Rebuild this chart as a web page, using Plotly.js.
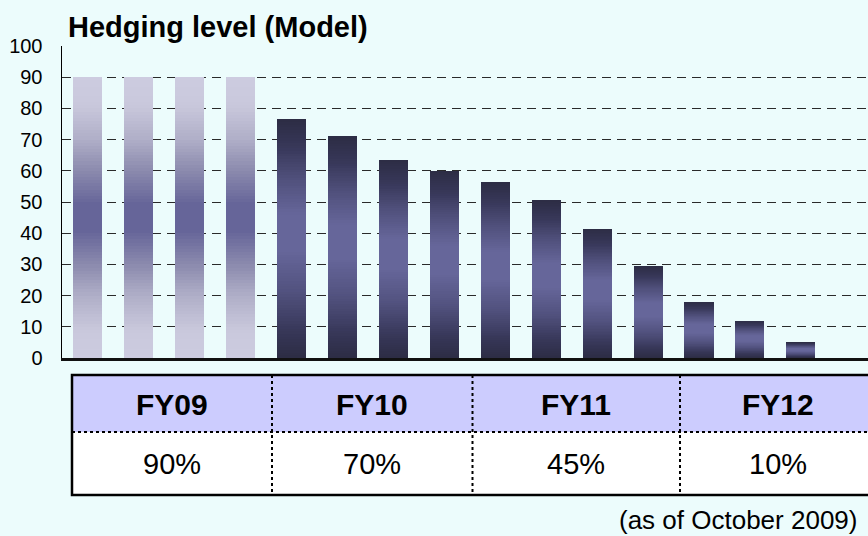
<!DOCTYPE html>
<html>
<head>
<meta charset="utf-8">
<script src="https://cdn.plot.ly/plotly-3.0.1.min.js"></script>
<style>
html,body{margin:0;padding:0;background:#ecfcfc;}
#chart{width:868px;height:536px;}
</style>
</head>
<body>
<div id="chart"></div>
<script>
// ---------------- data ----------------
const barIndex = [0,1,2,3,4,5,6,7,8,9,10,11,12,13,14];
const hedgeLevels = [90,90,90,90,76.5,71,63.5,60,56.5,50.5,41.5,29.5,18,12,5];
const barStyle = ['light','light','light','light','dark','dark','dark','dark','dark','dark','dark','dark','dark','dark','dark'];
const yTickVals = [0,10,20,30,40,50,60,70,80,90,100];
const yTickText = ['0','10','20','30','40','50','60','70','80','90','100'];
const fiscalYears = ['FY09','FY10','FY11','FY12'];
const fyHedgeRatios = ['90%','70%','45%','10%'];
const chartTitle = 'Hedging level (Model)';
const footNote = '(as of October 2009)';

// ---------------- style ----------------
const FONT = '"Liberation Sans", Arial, sans-serif';
const lightStops = [[0,'#cdcce0'],[0.1,'#c9c8dc'],[0.22,'#b0afc8'],[0.33,'#8c8bae'],[0.45,'#666599'],[0.55,'#666599'],[0.67,'#8c8bae'],[0.78,'#b0afc8'],[0.9,'#c9c8dc'],[1,'#cdcce0']];
const darkStops = [[0,'#2c2c44'],[0.12,'#38385a'],[0.28,'#52527f'],[0.45,'#66669a'],[0.6,'#66669a'],[0.75,'#50507c'],[0.88,'#38385a'],[1,'#2c2c44']];

function hexToRgb(h){h=h.replace('#','');return [parseInt(h.substr(0,2),16),parseInt(h.substr(2,2),16),parseInt(h.substr(4,2),16)];}
function colorAt(stops,t){
  for(let i=0;i<stops.length-1;i++){
    const a=stops[i],b=stops[i+1];
    if(t>=a[0]&&t<=b[0]){
      const f=(t-a[0])/(b[0]-a[0]);
      const ca=hexToRgb(a[1]),cb=hexToRgb(b[1]);
      const c=ca.map((v,j)=>Math.round(v+(cb[j]-v)*f));
      return 'rgb('+c.join(',')+')';
    }
  }
  return stops[stops.length-1][1];
}

// gradient rendering: each bar is drawn as a stack of thin bands of its own value
const BANDS = 90;
const traces = [];
for(let k=0;k<BANDS;k++){
  const t=(k+0.5)/BANDS;
  traces.push({
    type:'bar',
    x:barIndex,
    y:hedgeLevels.map(v=>v/BANDS),
    marker:{color:barStyle.map(s=>colorAt(s==='light'?lightStops:darkStops,t)),line:{width:0}},
    hoverinfo:'skip',
    showlegend:false
  });
}

// layout geometry (pixels)
const W=868,H=536,ML=62,MT=46,MB=178;
const PW=W-ML, PH=H-MT-MB;
const px=x=>(x-ML)/PW;
const py=y=>(H-MB-y)/PH;

const tblL=72,tblR=884,tblT=375,tblMid=432,tblB=495;
const colDiv=[272,472.5,680];
const colCenters=[172,372,576,778];

const shapes=[
  {type:'rect',xref:'paper',yref:'paper',x0:px(tblL),x1:px(tblR),y0:py(tblT),y1:py(tblMid),fillcolor:'#ccccfe',line:{width:0},layer:'above'},
  {type:'rect',xref:'paper',yref:'paper',x0:px(tblL),x1:px(tblR),y0:py(tblMid),y1:py(tblB),fillcolor:'#ffffff',line:{width:0},layer:'above'},
  {type:'line',xref:'paper',yref:'paper',x0:px(tblL),x1:px(tblR),y0:py(tblMid),y1:py(tblMid),line:{color:'#000',width:2,dash:'dot'},layer:'above'}
];
colDiv.forEach(x=>shapes.push({type:'line',xref:'paper',yref:'paper',x0:px(x),x1:px(x),y0:py(tblT),y1:py(tblB),line:{color:'#000',width:2,dash:'dot'},layer:'above'}));
shapes.push({type:'rect',xref:'paper',yref:'paper',x0:px(tblL),x1:px(tblR),y0:py(tblT),y1:py(tblB),line:{color:'#000',width:2.5},fillcolor:'rgba(0,0,0,0)',layer:'above'});

const annotations=[];
fiscalYears.forEach((fy,i)=>annotations.push({xref:'paper',yref:'paper',x:px(colCenters[i]),y:py(404),text:'<b>'+fy+'</b>',showarrow:false,xanchor:'center',yanchor:'middle',font:{family:FONT,size:30,color:'#000'}}));
fyHedgeRatios.forEach((v,i)=>annotations.push({xref:'paper',yref:'paper',x:px(colCenters[i]),y:py(464),text:v,showarrow:false,xanchor:'center',yanchor:'middle',font:{family:FONT,size:29,color:'#000'}}));
annotations.push({xref:'paper',yref:'paper',x:px(859),y:py(520),text:footNote,showarrow:false,xanchor:'right',yanchor:'middle',font:{family:FONT,size:26,color:'#000'}});

const slot=50.96;
const layout={
  width:W,height:H,
  margin:{l:ML,r:0,t:MT,b:MB,pad:0},
  paper_bgcolor:'#ecfcfc',
  plot_bgcolor:'#ecfcfc',
  barmode:'stack',
  bargap:0.43,
  title:{text:'<b>'+chartTitle+'</b>',xref:'container',yref:'container',x:68/W,xanchor:'left',y:1-17/H,yanchor:'top',font:{family:FONT,size:29,color:'#000'}},
  xaxis:{range:[-0.5,(W-ML)/slot-0.5],showticklabels:false,ticks:'',showgrid:false,zeroline:false,showline:true,linecolor:'#111',linewidth:2.5,fixedrange:true},
  yaxis:{range:[0,100],tickmode:'array',tickvals:yTickVals,ticktext:yTickText,ticks:'',showline:true,linecolor:'#000',linewidth:1.5,
         showgrid:true,gridcolor:'#2a2a2a',gridwidth:1,griddash:'9px,6px',zeroline:false,ticklabelstandoff:14,
         tickfont:{family:FONT,size:20,color:'#000'},fixedrange:true},
  shapes:shapes,
  annotations:annotations
};

Plotly.newPlot('chart',traces,layout,{displayModeBar:false,staticPlot:true});
</script>
</body>
</html>
